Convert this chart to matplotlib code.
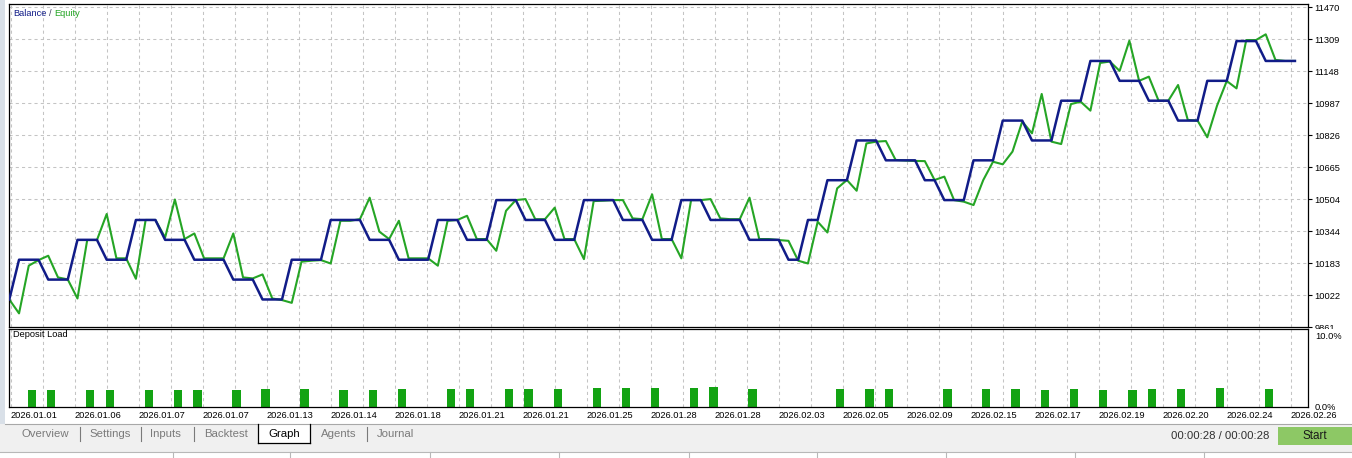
import matplotlib
matplotlib.use('Agg')
import matplotlib.pyplot as plt
import numpy as np
from matplotlib.patches import Rectangle
from matplotlib.lines import Line2D
from matplotlib.transforms import Bbox, TransformedBbox

plt.rcParams['font.family'] = ['Liberation Sans', 'DejaVu Sans']

# balance / equity per deal
balance = [10000,
           10200, 10200, 10200, 10100, 10100, 10100, 10300, 10300, 10300,
           10200, 10200, 10200, 10400, 10400, 10400, 10300, 10300, 10300,
           10200, 10200, 10200, 10200, 10100, 10100, 10100, 10000, 10000, 10000,
           10200, 10200, 10200, 10200, 10400, 10400, 10400, 10400,
           10300, 10300, 10300, 10200, 10200, 10200, 10200, 10400, 10400, 10400,
           10300, 10300, 10300, 10500, 10500, 10500, 10400, 10400, 10400,
           10300, 10300, 10300, 10500, 10500, 10500, 10500, 10400, 10400, 10400,
           10300, 10300, 10300, 10500, 10500, 10500, 10400, 10400, 10400, 10400,
           10300, 10300, 10300, 10300, 10200, 10200, 10400, 10400,
           10600, 10600, 10600, 10800, 10800, 10800, 10700, 10700, 10700, 10700,
           10600, 10600, 10500, 10500, 10500, 10700, 10700, 10700,
           10900, 10900, 10900, 10800, 10800, 10800, 11000, 11000, 11000,
           11200, 11200, 11200, 11100, 11100, 11100, 11000, 11000, 11000,
           10900, 10900, 10900, 11100, 11100, 11100, 11300, 11300, 11300,
           11200, 11200, 11200, 11200]

equity = [10000, 9930, 10170, 10198, 10220, 10111, 10101, 10005, 10299, 10299,
          10430, 10207, 10207, 10104, 10400, 10400, 10312, 10503, 10304, 10332,
          10207, 10207, 10207, 10332, 10111, 10106, 10126, 10005, 9997, 9983,
          10190, 10195, 10198, 10181, 10396, 10396, 10404, 10512, 10341, 10304,
          10396, 10207, 10207, 10207, 10170, 10396, 10400, 10421, 10304, 10304,
          10245, 10446, 10500, 10505, 10404, 10404, 10462, 10304, 10304, 10203,
          10495, 10497, 10500, 10500, 10408, 10404, 10529, 10304, 10304, 10207,
          10500, 10500, 10505, 10408, 10404, 10404, 10512, 10304, 10304, 10299,
          10295, 10195, 10181, 10391, 10337, 10559, 10601, 10547, 10785, 10794,
          10797, 10702, 10699, 10697, 10696, 10601, 10618, 10500, 10492, 10475,
          10601, 10693, 10680, 10744, 10895, 10836, 11034, 10794, 10782, 10983,
          10995, 10950, 11190, 11197, 11150, 11302, 11100, 11121, 11000, 11000,
          11079, 10903, 10900, 10816, 10975, 11099, 11062, 11305, 11305, 11334,
          11205, 11200, 11200]

# deposit load bars (deal index, percent)
load_deals = [2, 4, 8, 10, 14, 17, 19, 23, 26, 30, 34, 37, 40, 45, 47, 51, 53, 56,
              60, 63, 66, 70, 72, 76, 85, 88, 90, 96, 100, 103, 106, 109, 112, 115,
              117, 120, 124, 129]
load_pct = [2.35, 2.35, 2.35, 2.35, 2.35, 2.35, 2.35, 2.35, 2.45, 2.45, 2.35, 2.35,
            2.45, 2.45, 2.45, 2.45, 2.45, 2.45, 2.6, 2.6, 2.6, 2.6, 2.75, 2.45,
            2.45, 2.45, 2.45, 2.45, 2.45, 2.45, 2.35, 2.45, 2.35, 2.35, 2.45, 2.45,
            2.6, 2.45]

y_ticks = [9861, 10022, 10183, 10344, 10504, 10665, 10826, 10987, 11148, 11309, 11470]
date_labels = ['2026.01.01', '2026.01.06', '2026.01.07', '2026.01.07', '2026.01.13',
               '2026.01.14', '2026.01.18', '2026.01.21', '2026.01.21', '2026.01.25',
               '2026.01.28', '2026.01.28', '2026.02.03', '2026.02.05', '2026.02.09',
               '2026.02.15', '2026.02.17', '2026.02.19', '2026.02.20', '2026.02.24',
               '2026.02.26']
tabs = ['Overview', 'Settings', 'Inputs', 'Backtest', 'Graph', 'Agents', 'Journal']

BAL_COL = '#111c88'
EQ_COL = '#25a525'
BAR_COL = '#13a313'
GRID_COL = '#c4c4c4'

W, H = 1352, 458


def box(x0, y0, x1, y1):
    return [x0 / W, 1 - y1 / H, (x1 - x0) / W, (y1 - y0) / H]


def rect(x0, y0, x1, y1, **kw):
    fig.add_artist(Rectangle((x0 / W, 1 - y1 / H), (x1 - x0) / W, (y1 - y0) / H,
                             transform=fig.transFigure, **kw))


def hline(x0, x1, y, **kw):
    fig.add_artist(Line2D([x0 / W, x1 / W], [1 - y / H, 1 - y / H],
                          transform=fig.transFigure, **kw))


def vline(x, y0, y1, **kw):
    fig.add_artist(Line2D([x / W, x / W], [1 - y0 / H, 1 - y1 / H],
                          transform=fig.transFigure, **kw))


fig = plt.figure(figsize=(13.52, 4.58), dpi=100)
fig.patch.set_facecolor('white')

ax = fig.add_axes(box(9, 4.3, 1308, 327.3))
ax2 = fig.add_axes(box(9, 329.3, 1308, 407))

deals = np.arange(len(balance))
x_lo, x_hi = -0.03, 133.34
px_unit = 1299 / (x_hi - x_lo)
grid_x = x_lo + (1.7 + 32 * np.arange(41)) / px_unit

for a in (ax, ax2):
    a.set_xlim(x_lo, x_hi)
    for gx in grid_x:
        a.axvline(gx, color=GRID_COL, lw=0.75, ls=(0, (3, 3)), zorder=0)
    for s in a.spines.values():
        s.set_color('black')
        s.set_linewidth(0.9)

# main panel
ax.set_ylim(9860, 11485)
for v in y_ticks:
    ax.axhline(v, color=GRID_COL, lw=0.75, ls=(0, (3, 3)), zorder=0)
ax.plot(deals, equity, color=EQ_COL, lw=1.5, zorder=2)
ax.plot(deals, balance, color=BAL_COL, lw=1.8, zorder=3)
ax.set_xticks([])
ax.set_yticks(y_ticks)
ax.set_yticklabels([str(v) for v in y_ticks])
ax.tick_params(axis='y', left=False, labelleft=False, right=True, labelright=True,
               length=3, width=0.8, pad=1.5, labelsize=6.7, colors='black')
clip = TransformedBbox(Bbox.from_extents(0, 1 - 329.3 / H, 1, 1), fig.transFigure)
for lbl in ax.get_yticklabels():
    lbl.set_clip_box(clip)
    lbl.set_clip_on(True)

# deposit load panel
ax2.set_ylim(0, 10.8)
ax2.bar(np.array(load_deals) + 0.315, load_pct, width=0.85, color=BAR_COL, zorder=2)
ax2.set_yticks([0, 10])
ax2.set_yticklabels(['0.0%', '10.0%'])
ax2.tick_params(axis='y', left=False, labelleft=False, right=True, labelright=True,
                length=0, pad=5, labelsize=6.7)
ax2.set_xticks(grid_x[::2])
ax2.set_xticklabels(date_labels, ha='left')
ax2.tick_params(axis='x', length=0, pad=3, labelsize=6.7)
ax2.text(0.003, 0.93, 'Deposit Load', transform=ax2.transAxes,
         fontsize=6.7, va='center', ha='left')

# legend text
fig.text(13 / W, 1 - 13 / H, 'Balance', color=BAL_COL, fontsize=6.7, va='center')
fig.text(48.5 / W, 1 - 13 / H, '/', color='#404060', fontsize=6.7, va='center')
fig.text(54 / W, 1 - 13 / H, 'Equity', color=EQ_COL, fontsize=6.7, va='center')

# window chrome: left strip, tab bar, status row
rect(0, 0, 5, 424, facecolor='#d9e0e8', edgecolor='none')
rect(0, 424, W, 452, facecolor='#f0f0f0', edgecolor='none')
hline(5, W, 423.5, color='#a8a8a8', lw=0.8)
rect(258, 423.5, 310, 443, facecolor='white', edgecolor='none')
vline(258, 423.5, 443, color='black', lw=0.9)
vline(310, 423.5, 443, color='black', lw=0.9)
hline(258, 310, 443, color='black', lw=0.9)
hline(0, W, 452, color='#b8b8b8', lw=0.8)
for sx in [173, 290, 430, 559, 689, 817, 946, 1075, 1204]:
    vline(sx, 452, 458, color='#b8b8b8', lw=0.8)

tab_x = [21, 89, 150, 204, 268, 321, 377]
for name, tx in zip(tabs, tab_x):
    fig.text(tx / W, 1 - 434 / H, name, fontsize=8.2, va='center', ha='left',
             color='black' if name == 'Graph' else '#7a7a7a')
for sx in [80, 141, 194, 367]:
    vline(sx, 427, 441, color='#7a7a7a', lw=0.8)

fig.text(1269 / W, 1 - 436 / H, '00:00:28 / 00:00:28', fontsize=8.2, va='center',
         ha='right', color='#303030')
rect(1278, 427, W, 445, facecolor='#8dc865', edgecolor='none')
fig.text(1315 / W, 1 - 436 / H, 'Start', fontsize=8.4, va='center', ha='center',
         color='#1a1a1a')

fig.savefig('out.png', dpi=100, facecolor=fig.get_facecolor())
